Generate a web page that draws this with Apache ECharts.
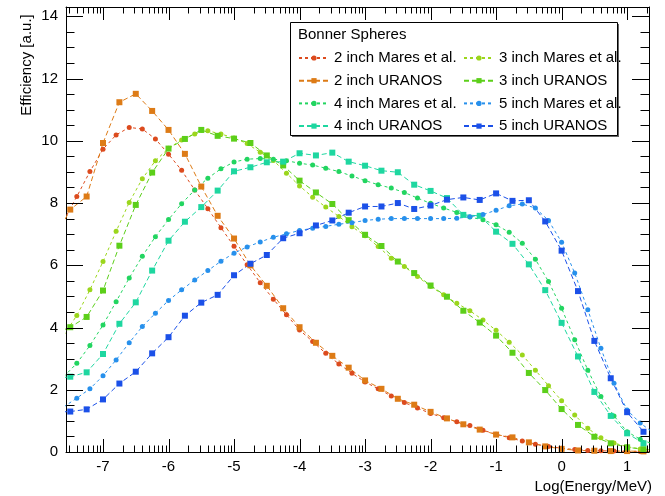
<!DOCTYPE html>
<html><head><meta charset="utf-8">
<script src="https://cdn.jsdelivr.net/npm/echarts@6/dist/echarts.min.js"></script>
<style>html,body{margin:0;padding:0;background:#fff}#c{width:665px;height:496px}</style>
</head><body><div id="c"></div>
<script>
// ---- data ----
const xMares = [-7.6,-7.4,-7.2,-7.0,-6.8,-6.6,-6.4,-6.2,-6.0,-5.8,-5.6,-5.4,-5.2,-5.0,
  -4.8,-4.6,-4.4,-4.2,-4.0,-3.8,-3.6,-3.4,-3.2,-3.0,-2.8,-2.6,-2.4,-2.2,
  -2.0,-1.8,-1.6,-1.4,-1.2,-1.0,-0.8,-0.6,-0.4,-0.2,0.0,0.2,0.4,
  0.6,0.8,1.0,1.2,1.4];
const xUranos = [-7.75,-7.5,-7.25,-7.0,-6.75,-6.5,-6.25,-6.0,-5.75,-5.5,-5.25,-5.0,-4.75,-4.5,
  -4.25,-4.0,-3.75,-3.5,-3.25,-3.0,-2.75,-2.5,-2.25,-2.0,-1.75,-1.5,-1.25,-1.0,
  -0.75,-0.5,-0.25,0.0,0.25,0.5,0.75,1.0,1.25];

const mares2 = [7.43,8.21,9.01,9.73,10.19,10.43,10.38,10.06,9.57,9.05,8.42,7.82,7.21,6.61,
  6.02,5.44,4.91,4.41,3.92,3.55,3.17,2.83,2.53,2.25,2.03,1.80,1.59,1.41,
  1.24,1.10,0.97,0.85,0.70,0.57,0.46,0.35,0.25,0.18,0.12,0.08,0.05,
  0.04,0.03,0.02,0.02,0.01];
const uranos2 = [6.8,7.79,8.21,9.93,11.24,11.51,10.96,10.35,9.58,8.53,7.59,6.86,6.00,5.34,
  4.62,4.01,3.51,3.09,2.71,2.30,2.03,1.71,1.52,1.29,1.08,0.89,0.72,0.56,
  0.47,0.31,0.18,0.10,0.05,0.04,0.03,0.03,0.02];
const mares3 = [3.75,4.39,5.21,6.12,7.09,8.02,8.78,9.36,9.76,10.03,10.22,10.32,10.22,10.09,
  9.91,9.63,9.37,8.96,8.55,8.19,7.87,7.57,7.24,6.95,6.60,6.23,5.96,5.64,
  5.32,5.05,4.78,4.54,4.24,3.91,3.53,3.12,2.63,2.13,1.65,1.19,0.76,
  0.46,0.29,0.17,0.10,0.06];
const uranos3 = [3.8,4.01,4.34,5.19,6.63,7.94,8.98,9.75,10.06,10.35,10.16,10.07,9.93,9.53,
  9.21,8.72,8.34,7.97,7.45,6.98,6.62,6.12,5.75,5.35,4.99,4.54,4.16,3.74,
  3.19,2.54,1.99,1.38,0.87,0.49,0.28,0.15,0.09];
const mares4 = [2.42,2.85,3.42,4.08,4.83,5.59,6.29,6.92,7.47,7.98,8.42,8.80,9.10,9.32,
  9.41,9.43,9.41,9.36,9.28,9.22,9.12,9.01,8.87,8.72,8.59,8.48,8.34,8.16,
  7.99,7.84,7.70,7.55,7.46,7.30,7.06,6.71,6.19,5.48,4.62,3.61,2.63,
  1.78,1.16,0.65,0.41,0.25];
const uranos4 = [2.35,2.42,2.56,3.15,4.12,4.81,5.83,6.79,7.40,7.87,8.40,9.02,9.15,9.31,
  9.33,9.60,9.53,9.62,9.33,9.20,9.04,8.99,8.59,8.39,8.16,7.62,7.59,7.08,
  6.69,6.03,5.20,4.15,3.07,1.93,1.16,0.60,0.28];
const mares5 = [1.45,1.73,2.03,2.45,2.96,3.51,4.03,4.46,4.87,5.21,5.53,5.83,6.13,6.39,
  6.59,6.75,6.90,7.01,7.12,7.19,7.25,7.32,7.37,7.44,7.48,7.50,7.50,7.50,
  7.50,7.50,7.51,7.56,7.63,7.77,7.91,7.97,7.84,7.44,6.74,5.75,4.57,
  3.33,2.21,1.35,0.93,0.62];
const uranos5 = [1.28,1.30,1.37,1.69,2.20,2.58,3.17,3.69,4.38,4.80,5.05,5.68,6.05,6.33,
  6.87,7.03,7.28,7.44,7.69,7.89,7.89,8.00,7.81,7.92,8.11,8.18,8.10,8.31,
  8.07,8.09,7.41,6.47,5.17,3.57,2.37,1.28,0.65];

const seriesNames = ['2 inch Mares et al.','2 inch URANOS','3 inch Mares et al.','3 inch URANOS',
  '4 inch Mares et al.','4 inch URANOS','5 inch Mares et al.','5 inch URANOS'];
const seriesColors = ['#dc4b1e','#dd7b16','#9bd61c','#5ccf1a','#22d560','#1ed7a0','#2790ec','#1b50e8'];

const xTickLabels = [-7,-6,-5,-4,-3,-2,-1,0,1];
const yTickLabels = [0,2,4,6,8,10,12,14];
const xMin = -7.565, xMax = 1.334, yMin = 0, yMax = 14.3;
const legendTitle = 'Bonner Spheres';
const xTitle = 'Log(Energy/MeV)';
const yTitle = 'Efficiency [a.u.]';

// ---- build ----
const FONT = '"Liberation Sans", Arial, Helvetica, sans-serif';
function mk(i, xs, ys, isMares) {
  return {
    type: 'line', name: seriesNames[i],
    data: xs.map((x, k) => [x, ys[k]]),
    symbol: isMares ? 'circle' : 'rect',
    symbolSize: isMares ? 5 : 6,
    showSymbol: true, showAllSymbol: true,
    clip: true, animation: false,
    lineStyle: { color: seriesColors[i], width: 1, type: isMares ? [3, 3] : [5, 3] },
    itemStyle: { color: seriesColors[i] },
    emphasis: { disabled: true },
    z: 3
  };
}

// tick positions (axis furniture)
const tickData = [];
for (const v of xTickLabels) tickData.push([v, 0, 0, 1]);
for (let d = -8; d <= 1; d++) {
  for (let k = 2; k <= 9; k++) {
    const v = d + Math.log10(k);
    if (v > xMin && v < xMax) tickData.push([v, 0, 0, 0]);
  }
}
for (let v = 0; v <= 14; v += 0.5) tickData.push([xMin, v, 1, (v % 2 === 0) ? 1 : 0]);

function renderTick(params, api) {
  const cs = params.coordSys;
  const type = api.value(2), major = api.value(3);
  const st = { stroke: '#000', lineWidth: 1 };
  if (type === 0) {
    const px = Math.round(api.coord([api.value(0), 0])[0]) + 0.5;
    const len = major ? 13 : 6.5;
    const b = cs.y + cs.height, t = cs.y;
    return { type: 'group', children: [
      { type: 'line', shape: { x1: px, y1: b, x2: px, y2: b - len }, style: st },
      { type: 'line', shape: { x1: px, y1: t, x2: px, y2: t + len }, style: st }
    ]};
  } else {
    const py = Math.round(api.coord([xMin, api.value(1)])[1]) + 0.5;
    const len = major ? 17 : 8.5;
    const l = cs.x, r = cs.x + cs.width;
    return { type: 'group', children: [
      { type: 'line', shape: { x1: l, y1: py, x2: l + len, y2: py }, style: st },
      { type: 'line', shape: { x1: r, y1: py, x2: r - len, y2: py }, style: st }
    ]};
  }
}

const chart = echarts.init(document.getElementById('c'), null, { renderer: 'canvas' });
const axisLine = { show: true, onZero: false, lineStyle: { color: '#000', width: 1 } };
const option = {
  animation: false,
  backgroundColor: '#fff',
  textStyle: { fontFamily: FONT },
  grid: { left: 66, right: 16, top: 7, bottom: 44, containLabel: false, outerBoundsMode: 'none' },
  xAxis: [
    { type: 'value', min: xMin, max: xMax, position: 'bottom',
      axisLine, axisTick: { show: false }, splitLine: { show: false },
      axisLabel: { customValues: xTickLabels, color: '#000', fontSize: 15, margin: 7, fontFamily: FONT } },
    { type: 'value', min: xMin, max: xMax, position: 'top',
      axisLine, axisTick: { show: false }, splitLine: { show: false }, axisLabel: { show: false } }
  ],
  yAxis: [
    { type: 'value', min: yMin, max: yMax, position: 'left',
      axisLine, axisTick: { show: false }, splitLine: { show: false },
      axisLabel: { customValues: yTickLabels, color: '#000', fontSize: 15, margin: 8, fontFamily: FONT } },
    { type: 'value', min: yMin, max: yMax, position: 'right',
      axisLine, axisTick: { show: false }, splitLine: { show: false }, axisLabel: { show: false } }
  ],
  legend: [
    { orient: 'vertical', left: 298, top: 50, padding: 0, itemWidth: 30, itemHeight: 6.5, itemGap: 6.7,
      selectedMode: false, z: 6,
      textStyle: { color: '#000', fontSize: 15, lineHeight: 16, fontFamily: FONT },
      data: [seriesNames[0], seriesNames[1], seriesNames[4], seriesNames[5]] },
    { orient: 'vertical', left: 463, top: 50, padding: 0, itemWidth: 30, itemHeight: 6.5, itemGap: 6.7,
      selectedMode: false, z: 6,
      textStyle: { color: '#000', fontSize: 15, lineHeight: 16, fontFamily: FONT },
      data: [seriesNames[2], seriesNames[3], seriesNames[6], seriesNames[7]] }
  ],
  graphic: [
    { type: 'rect', z: 4, shape: { x: 292, y: 24, width: 327, height: 113 }, style: { fill: '#666' } },
    { type: 'rect', z: 5, shape: { x: 290.5, y: 22.5, width: 327, height: 113 }, style: { fill: '#fff', stroke: '#000', lineWidth: 1 } },
    { type: 'text', z: 6, x: 298, y: 35, style: { text: legendTitle, fontSize: 15, fontFamily: FONT, fill: '#000', textVerticalAlign: 'middle' } },
    { type: 'text', z: 6, x: 652, y: 487, style: { text: xTitle, fontSize: 15, fontFamily: FONT, fill: '#000', textAlign: 'right', textVerticalAlign: 'middle' } },
    { type: 'text', z: 6, x: 27, y: 65, rotation: Math.PI / 2, style: { text: yTitle, fontSize: 15, fontFamily: FONT, fill: '#000', textAlign: 'center', textVerticalAlign: 'middle' } }
  ],
  series: [
    mk(0, xMares, mares2, true),
    mk(1, xUranos, uranos2, false),
    mk(2, xMares, mares3, true),
    mk(3, xUranos, uranos3, false),
    mk(4, xMares, mares4, true),
    mk(5, xUranos, uranos4, false),
    mk(6, xMares, mares5, true),
    mk(7, xUranos, uranos5, false),
    { type: 'custom', name: 'ticks', coordinateSystem: 'cartesian2d', xAxisIndex: 0, yAxisIndex: 0,
      data: tickData, encode: { x: 0, y: 1 }, renderItem: renderTick, clip: false, silent: true, z: 5,
      animation: false }
  ]
};
chart.setOption(option);
</script>
</body></html>
